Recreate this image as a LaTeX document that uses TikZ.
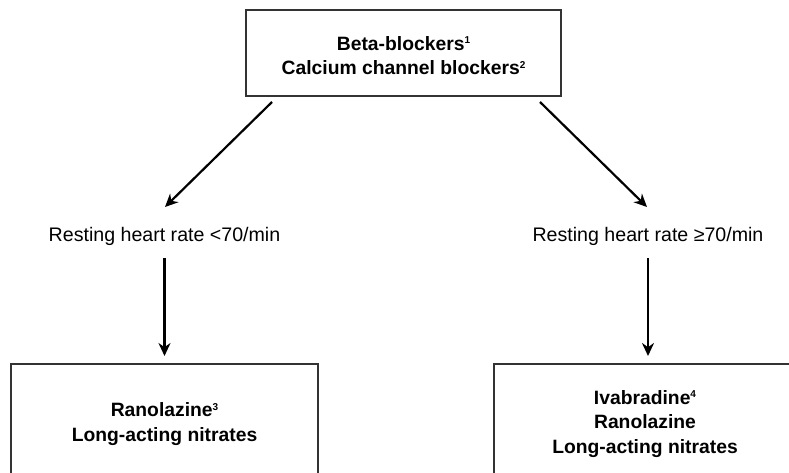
\documentclass[tikz,border=0pt]{standalone}
\usepackage{fontspec}
\setmainfont{Liberation Sans}
\usetikzlibrary{arrows.meta,calc}
\newcommand{\supnum}[1]{\raisebox{6.5pt}{\fontsize{10}{10}\selectfont #1}}
\tikzset{
  boxline/.style={draw=black!80, line width=1.5pt},
  topbox/.style={boxline, minimum width=315pt, minimum height=86pt, inner sep=0pt},
  lowbox/.style={boxline, minimum width=307pt, minimum height=160pt, inner sep=0pt},
  txt/.style={font=\fontsize{19.6}{24.5}\selectfont, align=center, inner sep=0pt},
  btxt/.style={txt, font=\fontsize{19.3}{24.5}\selectfont\bfseries},
  arr/.style={line width=2.2pt, -{Stealth[length=13pt,width=12pt]}},
}
\begin{document}
\begin{tikzpicture}[x=1pt,y=-1pt]
\useasboundingbox (0,0) rectangle (789,473);
\clip (0,0) rectangle (789,473);
% top box
\node[topbox] (top) at (403.5,53) {};
\node[btxt, anchor=base] (toptxt) at (403.5,75) {Beta-blockers\supnum{1}\\Calcium channel blockers\supnum{2}};
% labels
\node[txt, anchor=base] (lowhr) at (164.5,241) {Resting heart rate <70/min};
\node[txt, anchor=base] (highhr) at (648,241) {Resting heart rate ≥70/min};
% bottom boxes
\node[lowbox, anchor=north] (left) at (164.5,363) {};
\node[lowbox, anchor=north] (right) at (647.5,363) {};
\node[btxt, anchor=base] (lefttxt) at (164.5,441) {Ranolazine\supnum{3}\\Long-acting nitrates};
\node[btxt, anchor=base] (righttxt) at (645,453) {Ivabradine\supnum{4}\\Ranolazine\\Long-acting nitrates};
% connector end points
\coordinate (d1s) at (272,102);
\coordinate (d1e) at (165,207);
\coordinate (d2s) at (540,102);
\coordinate (d2e) at (647,207);
\coordinate (v1s) at (164.5,258);
\coordinate (v2s) at (648,258);
\draw[arr] (d1s) -- (d1e);
\draw[arr] (d2s) -- (d2e);
\draw[arr] (v1s) -- ($(left.north)+(0,-7)$);
\draw[arr] (v2s) -- ($(right.north)+(0.5,-7)$);
\end{tikzpicture}
\end{document}
